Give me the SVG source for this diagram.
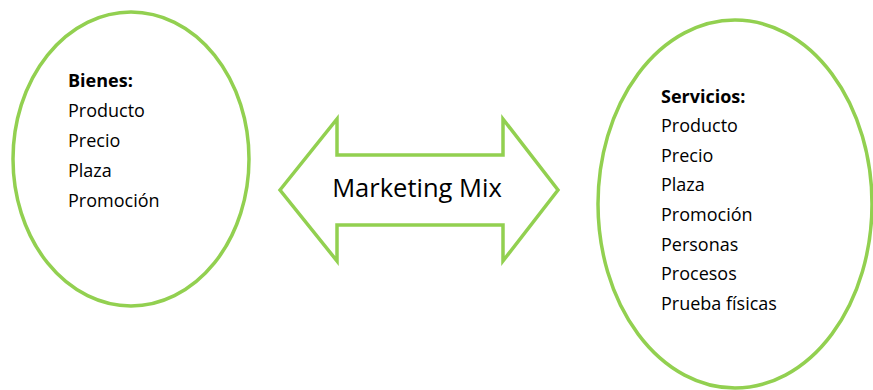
<svg xmlns="http://www.w3.org/2000/svg" width="873" height="390" viewBox="0 0 873 390">
<style>
.shape{fill:#ffffff;stroke:#92D050;stroke-width:3.5}
.t{font-family:"Open Sans","Liberation Sans",sans-serif;font-size:18px;fill:#000}
.b{font-weight:bold}
.big{font-family:"Open Sans","Liberation Sans",sans-serif;font-size:25.5px;fill:#000}
</style>
<rect width="873" height="390" fill="#ffffff"/>
<g id="bienes">
<ellipse class="shape" cx="131" cy="159" rx="118" ry="147"/>
<text class="t b" x="68" y="87">Bienes:</text>
<text class="t" x="68" y="117">Producto</text>
<text class="t" x="68" y="147">Precio</text>
<text class="t" x="68" y="177">Plaza</text>
<text class="t" x="68" y="207">Promoción</text>
</g>
<g id="connectors">
<g id="marketing-mix">
<path class="shape" d="M280,190 L337,119 L337,155 L503,155 L503,119 L558,190 L503,261 L503,225 L337,225 L337,261 Z"/>
<text class="big" x="417" y="197" text-anchor="middle">Marketing Mix</text>
</g>
</g>
<g id="servicios">
<ellipse class="shape" cx="735" cy="204" rx="137" ry="184"/>
<text class="t b" x="661" y="103">Servicios:</text>
<text class="t" x="661" y="132">Producto</text>
<text class="t" x="661" y="162">Precio</text>
<text class="t" x="661" y="191">Plaza</text>
<text class="t" x="661" y="221">Promoción</text>
<text class="t" x="661" y="251">Personas</text>
<text class="t" x="661" y="280">Procesos</text>
<text class="t" x="661" y="310">Prueba físicas</text>
</g>
</svg>
